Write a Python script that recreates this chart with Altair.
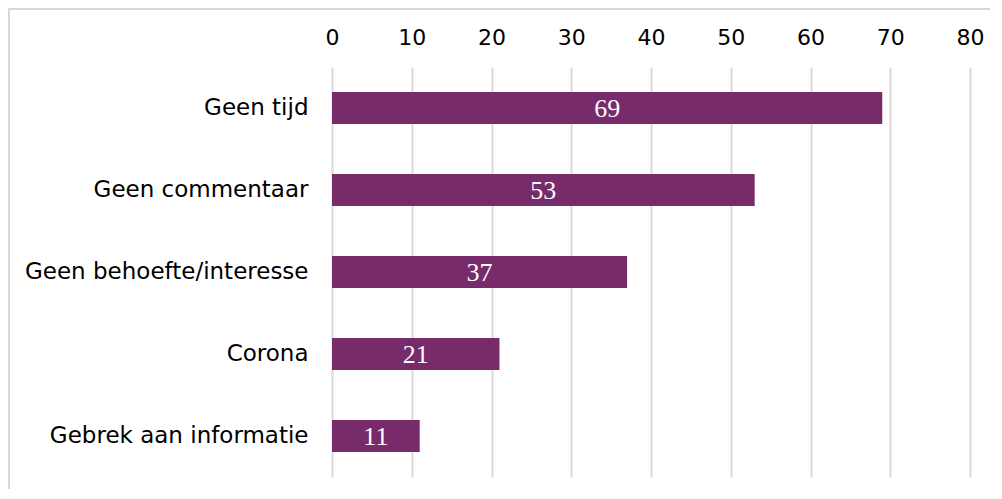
import altair as alt
import pandas as pd

categories = ["Geen tijd", "Geen commentaar", "Geen behoefte/interesse", "Corona", "Gebrek aan informatie"]
values = [69, 53, 37, 21, 11]
x_ticks = [0, 10, 20, 30, 40, 50, 60, 70, 80]

df = pd.DataFrame({"cat": categories, "val": values})
df["mid"] = df["val"] / 2

bar_color = "#772B6A"
grid_color = "#d9d9d9"

y_enc = alt.Y("cat:N", sort=categories, title=None,
              scale=alt.Scale(paddingInner=0.61, paddingOuter=0.305),
              axis=alt.Axis(labelFontSize=23, labelFont="DejaVu Sans", labelColor="#000000",
                            ticks=False, domain=False, labelPadding=24, grid=False,
                            labelLimit=400))

bars = alt.Chart(df).mark_bar(color=bar_color).encode(
    x=alt.X("val:Q", title=None,
            scale=alt.Scale(domain=[0, 80], nice=False),
            axis=alt.Axis(orient="top", values=x_ticks,
                          labelFontSize=22, labelFont="DejaVu Sans", labelColor="#000000",
                          ticks=False, domain=False, labelPadding=18, labelFlush=False,
                          grid=True, gridColor=grid_color, gridWidth=2)),
    y=y_enc,
)

labels = alt.Chart(df).mark_text(color="white", font="Liberation Serif", fontSize=26,
                                 baseline="middle", align="center", dy=1).encode(
    x=alt.X("mid:Q"),
    y=alt.Y("cat:N", sort=categories),
    text=alt.Text("val:Q"),
)

border = alt.Chart(pd.DataFrame({"k": [0]})).mark_rect(
    fill=None, stroke=grid_color, strokeWidth=2, clip=False
).encode(
    x=alt.value(-323), x2=alt.value(700), y=alt.value(-58), y2=alt.value(460)
)

chart = alt.layer(border, bars, labels).properties(
    width=638, height=410,
    autosize=alt.AutoSizeParams(type="none"),
    padding={"left": 324, "top": 59, "right": 20, "bottom": 12},
).configure_view(stroke=None)

chart.save("out.html", embed_options={"renderer": "svg", "actions": False})
